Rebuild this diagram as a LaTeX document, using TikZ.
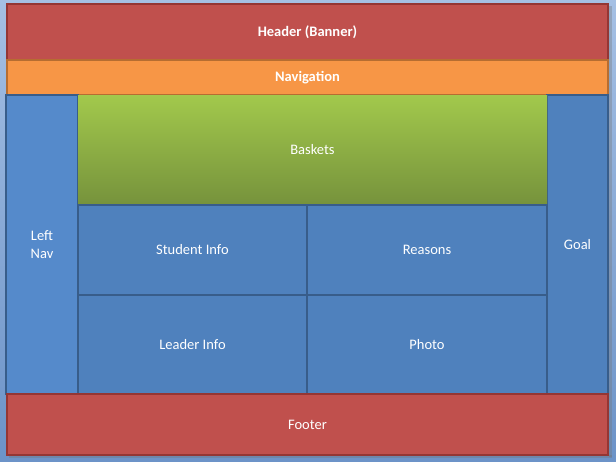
\documentclass[tikz,border=0pt]{standalone}
\usepackage{fontspec}
\setmainfont{Carlito}
\usetikzlibrary{shadings}
\definecolor{hdrred}{HTML}{C0504D}
\definecolor{hdrline}{HTML}{943634}
\definecolor{navor}{HTML}{F79646}
\definecolor{navline}{HTML}{B66D31}
\definecolor{boxblue}{HTML}{4F81BD}
\definecolor{boxline}{HTML}{385D8A}
\definecolor{leftblue}{HTML}{558ACB}
\definecolor{grtop}{HTML}{A2C94C}
\definecolor{grbot}{HTML}{76923C}
\definecolor{bglight}{HTML}{B4CCEC}
\definecolor{bgdark}{HTML}{6C93C8}
\tikzset{
  panel/.style={line width=1.3pt, inner sep=0pt, outer sep=0pt, text=white, font=\fontsize{14.5}{17}\selectfont, align=center},
  boldtext/.style={font=\bfseries\fontsize{14.5}{17}\selectfont},
  redpanel/.style={panel, fill=hdrred, draw=hdrline},
  orpanel/.style={panel, fill=navor, draw=navline},
  bluepanel/.style={panel, fill=boxblue, draw=boxline},
}
\begin{document}
\begin{tikzpicture}[x=1pt,y=-1pt]
\useasboundingbox (0,0) rectangle (616,461);
\shade[left color=bglight, right color=bgdark, shading angle=0] (0,0) rectangle (616,461);
\shade[top color=bglight!60!bgdark, bottom color=bgdark, opacity=0.5] (0,0) rectangle (616,461);
% shadows
\fill[black!55, opacity=0.35] (609,6) rectangle (612,457);
\fill[black!55, opacity=0.35] (9,455) rectangle (612,458);
% panels
\node[redpanel, boldtext, minimum width=601pt, minimum height=56pt, anchor=north west] (header) at (7,4) {Header (Banner)};
\node[orpanel, boldtext, minimum width=601pt, minimum height=35pt, anchor=north west] (nav) at (7,60) {Navigation};
\node[bluepanel, fill=leftblue, minimum width=72pt, minimum height=299pt, anchor=north west] (leftnav) at (6,95) {};
\node[bluepanel, minimum width=61pt, minimum height=299pt, anchor=north west] (goal) at (547,95) {Goal};
\shade[top color=grtop, bottom color=grbot] (78,95) rectangle (547,205);
\node[panel, minimum width=469pt, minimum height=110pt, anchor=north west] (baskets) at (78,95) {Baskets};
\node[bluepanel, minimum width=229pt, minimum height=90pt, anchor=north west] (student) at (78,205) {Student Info};
\node[bluepanel, minimum width=240pt, minimum height=90pt, anchor=north west] (reasons) at (307,205) {Reasons};
\node[bluepanel, minimum width=229pt, minimum height=99pt, anchor=north west] (leader) at (78,295) {Leader Info};
\node[bluepanel, minimum width=240pt, minimum height=99pt, anchor=north west] (photo) at (307,295) {Photo};
\draw[boxline, line width=1.3pt] (baskets.south west) -- (baskets.south east);
\node[redpanel, minimum width=601pt, minimum height=61pt, anchor=north west] (footer) at (7,394) {Footer};
\node[text=white, font=\fontsize{14.5}{18}\selectfont, align=center] (lefttext) at (42,245) {Left\\Nav};
\end{tikzpicture}
\end{document}
